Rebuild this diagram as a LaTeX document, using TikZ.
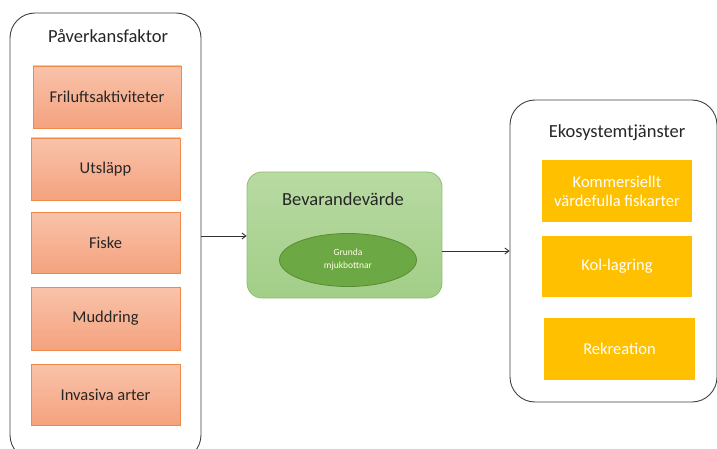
\documentclass[tikz,border=0pt]{standalone}
\usepackage{fontspec}
\setmainfont{Carlito}
\usetikzlibrary{shapes.geometric,arrows.meta}
\definecolor{orTop}{HTML}{F9C3AA}
\definecolor{orBot}{HTML}{F4A27E}
\definecolor{orLine}{HTML}{F08A4B}
\definecolor{grTop}{HTML}{B8DAA3}
\definecolor{grBot}{HTML}{A2CE87}
\definecolor{grLine}{HTML}{8CC06A}
\definecolor{elFill}{HTML}{6CA844}
\definecolor{elLine}{HTML}{578C34}
\definecolor{yel}{HTML}{FFC000}
\definecolor{txt}{HTML}{262626}
\tikzset{
  container/.style={draw=black!75, line width=0.9pt, rounded corners=25pt, fill=white},
  orbox/.style={draw=orLine, line width=0.8pt, top color=orTop, bottom color=orBot},
  ortxt/.style={text=txt, font=\fontsize{16.5}{19}\selectfont},
  ybox/.style={fill=yel, text=white, font=\fontsize{16.5}{19}\selectfont, align=center},
  ttl/.style={text=txt, font=\fontsize{18.5}{22}\selectfont},
  conn/.style={draw=black!80, line width=0.9pt, -{Straight Barb[length=4pt,width=6pt]}},
}
\begin{document}
\begin{tikzpicture}[x=1pt,y=-1pt]
\useasboundingbox (0,0) rectangle (717,449);
\clip (0,0) rectangle (717,449);
% left container
\path[container] (10,13) rectangle (201,460);
\coordinate (lc) at (201,236);
\node[ttl] (t1) at (108,36) {Påverkansfaktor};
\path[orbox] (33,66) rectangle (181,128);
\node[ortxt] (o1) at (107,97) {Friluftsaktiviteter};
\path[orbox] (31,138) rectangle (180,200);
\node[ortxt] (o2) at (105.5,169) {Utsläpp};
\path[orbox] (31,212) rectangle (180,273);
\node[ortxt] (o3) at (105.5,242.5) {Fiske};
\path[orbox] (31,287) rectangle (180,350);
\node[ortxt] (o4) at (105.5,318.5) {Muddring};
\path[orbox] (31,364) rectangle (180,425);
\node[ortxt] (o5) at (105.5,394.5) {Invasiva arter};
% green box
\node[draw=grLine, line width=0.8pt, rounded corners=15pt, top color=grTop, bottom color=grBot,
      minimum width=195pt, minimum height=126pt, inner sep=0pt] (g) at (344.5,235) {};
\node[ttl] (gt) at (343,199) {Bevarandevärde};
\node[ellipse, draw=elLine, line width=0.8pt, fill=elFill, minimum width=137pt, minimum height=53pt,
      text=white!90!yellow, align=center, font=\fontsize{9.5}{13}\selectfont, inner sep=0pt] (el) at (348,260) {Grunda\\mjukbottnar};
% right container
\node[container, minimum width=207pt, minimum height=302pt, inner sep=0pt] (rc) at (613.5,251) {};
\node[ttl] (t2) at (617,133) {Ekosystemtjänster};
\node[ybox, minimum width=150pt, minimum height=62pt, inner sep=0pt] (y1) at (617,191) {Kommersiellt\\värdefulla fiskarter};
\node[ybox, minimum width=150pt, minimum height=61pt, inner sep=0pt] (y2) at (617,266.5) {Kol-lagring};
\node[ybox, minimum width=151pt, minimum height=62pt, inner sep=0pt] (y3) at (619.5,349) {Rekreation};
% connectors
\draw[conn] (lc) -- (g.west |- lc);
\draw[conn] (g.east |- 0,251) -- (rc.west |- 0,251);
\end{tikzpicture}
\end{document}
